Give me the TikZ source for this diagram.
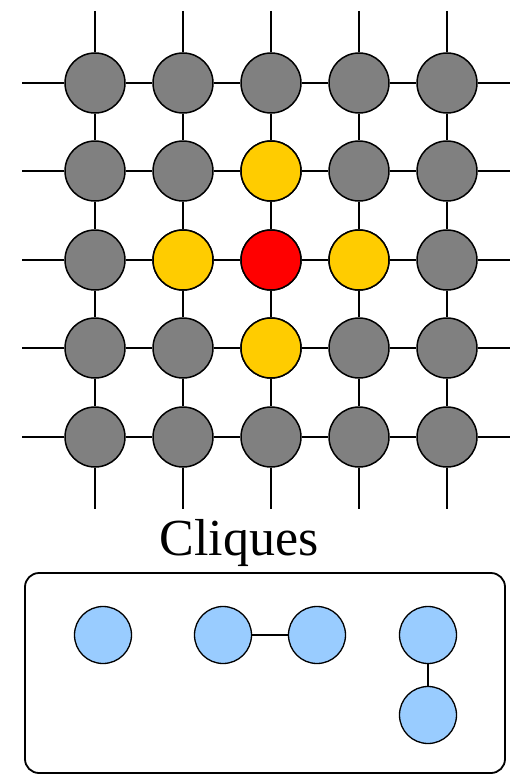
\documentclass[tikz,border=0pt]{standalone}
\usepackage{fontspec}
\setmainfont{Liberation Serif}
\definecolor{cellgray}{HTML}{808080}
\definecolor{cellgold}{HTML}{FFCC00}
\definecolor{cellred}{HTML}{FF0000}
\definecolor{cliqueblue}{HTML}{99CCFF}
\begin{document}
\begin{tikzpicture}[x=1pt,y=-1pt,
  site/.style={circle,draw=black,line width=1.5pt,minimum size=60pt,inner sep=0pt,fill=cellgray},
  clq/.style={circle,draw=black,line width=1.3pt,minimum size=57pt,inner sep=0pt,fill=cliqueblue},
  link/.style={line width=2pt}]
\useasboundingbox (0,0) rectangle (510,776);
\fill[white] (0,0) rectangle (510,776);
% lattice sites
\foreach \c/\x in {1/95,2/183,3/271,4/359,5/447}{
  \foreach \r/\y in {1/83,2/171,3/260,4/348,5/437}{
    \node[site] (n\r\c) at (\x,\y) {};
  }
  \coordinate (top\c) at (\x,11);
  \coordinate (bot\c) at (\x,509);
}
\foreach \r/\y in {1/83,2/171,3/260,4/348,5/437}{
  \coordinate (lft\r) at (22,\y);
  \coordinate (rgt\r) at (510,\y);
}
% neighbourhood of the centre site
\node[site,fill=cellred] at (n33) {};
\foreach \n in {n23,n32,n34,n43}{\node[site,fill=cellgold] at (\n) {};}
% lattice edges
\foreach \r in {1,...,5}{
  \draw[link] (lft\r) -- (n\r1.west);
  \draw[link] (n\r5.east) -- (rgt\r);
  \foreach \a/\b in {1/2,2/3,3/4,4/5}{\draw[link] (n\r\a) -- (n\r\b);}
}
\foreach \c in {1,...,5}{
  \draw[link] (top\c) -- (n1\c.north);
  \draw[link] (n5\c.south) -- (bot\c);
  \foreach \a/\b in {1/2,2/3,3/4,4/5}{\draw[link] (n\a\c) -- (n\b\c);}
}
% cliques
\node[font=\fontsize{52}{62}\selectfont,anchor=base] (title) at (239,555) {Cliques};
\draw[line width=1.8pt,rounded corners=14pt] (25,573) rectangle (505,773);
\node[clq] (c1) at (103,635) {};
\node[clq] (c2a) at (223,635) {};
\node[clq] (c2b) at (317,635) {};
\node[clq] (c3a) at (428,635) {};
\node[clq] (c3b) at (428,715) {};
\draw[link,line width=1.6pt] (c2a) -- (c2b);
\draw[link,line width=1.6pt] (c3a) -- (c3b);
\end{tikzpicture}
\end{document}
